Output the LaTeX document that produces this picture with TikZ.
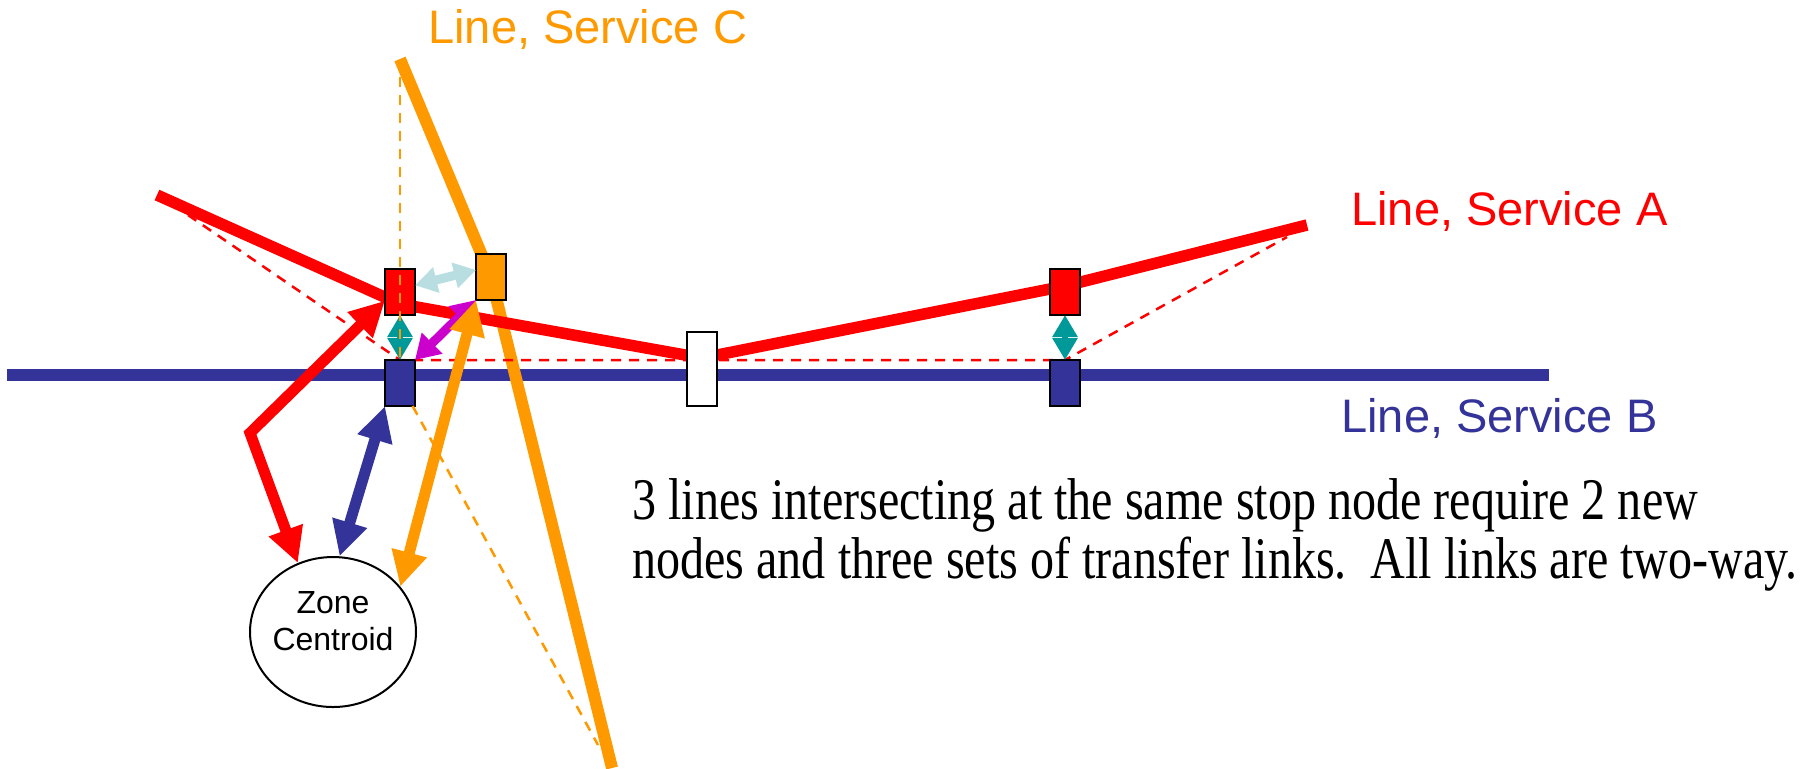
\documentclass[tikz,border=0pt]{standalone}
\usepackage{fontspec}
\setmainfont{Liberation Serif}
\newfontfamily\arialf{Liberation Sans}
\newfontfamily\bodyf[FakeStretch=0.815]{Liberation Serif}
\usetikzlibrary{arrows.meta,shapes.geometric}
\definecolor{lineRed}{RGB}{255,0,0}
\definecolor{lineBlue}{RGB}{51,51,153}
\definecolor{lineOrange}{RGB}{255,153,0}
\definecolor{tealc}{RGB}{0,153,153}
\definecolor{lightc}{RGB}{185,222,225}
\definecolor{magc}{RGB}{204,0,204}
\pgfdeclarelayer{bg}
\pgfdeclarelayer{mid}
\pgfsetlayers{bg,mid,main}
\begin{document}
\begin{tikzpicture}[x=0.5pt,y=-0.5pt,
  route/.style={line width=6pt},
  stopbox/.style={draw=black, line width=1pt, minimum width=15pt, minimum height=23pt, inner sep=0pt, outer sep=0pt},
  dashlink/.style={line width=1.25pt, dash pattern=on 5pt off 4pt},
  bigarrow/.style={line width=5.5pt, {Triangle[length=17.5pt,width=17pt]}-{Triangle[length=17.5pt,width=17pt]}},
  magarrow/.style={line width=4.5pt, magc, {Triangle[length=12pt,width=14pt]}-{Triangle[length=12pt,width=14pt]}},
  lbarrow/.style={line width=4.5pt, lightc, {Triangle[length=11pt,width=12.5pt]}-{Triangle[length=11pt,width=12.5pt]}},
  tealarrow/.style={line width=3pt, tealc, {Triangle[length=11pt,width=12pt]}-{Triangle[length=11pt,width=12pt]}},
  lab/.style={font=\arialf\fontsize{23.5}{28}\selectfont, inner sep=0pt, anchor=base west},
]
\useasboundingbox (0,0) rectangle (1818,768);

% stop nodes
\node[stopbox, fill=lineRed] (rA) at (400,292) {};
\node[stopbox, fill=lineRed] (rB) at (1065,292) {};
\node[stopbox, fill=lineBlue] (bA) at (400,383) {};
\node[stopbox, fill=lineBlue] (bB) at (1065,383) {};
\node[stopbox, fill=lineOrange] (oA) at (491,277) {};
\node[stopbox, fill=white, minimum height=37pt] (wS) at (702,368.5) {};

% zone centroid
\node[ellipse, draw=black, line width=1pt, minimum width=83pt, minimum height=75pt, inner sep=0pt] (zc) at (333,632) {};
\node[font=\arialf\fontsize{16}{18.5}\selectfont, align=center, inner sep=0pt] (zct) at (333,621) {Zone\\Centroid};

% route coordinates
\coordinate (aW) at (157,195);
\coordinate (aK1) at (400,304);
\coordinate (aK2) at (702,358);
\coordinate (aK3) at (1065,286);
\coordinate (aE) at (1307,225);
\coordinate (bW) at (7,375);
\coordinate (bE) at (1549,375);
\coordinate (cN) at (400,59);
\coordinate (cS) at (612,768);
\coordinate (dA1) at (188,215);
\coordinate (dA2) at (1287,237);
\coordinate (dC1) at (400,77);
\coordinate (dC2) at (598,745);
\coordinate (rbend) at (250,433);

\begin{pgfonlayer}{bg}
\draw[route, lineBlue] (bW) -- (bE);
\draw[route, lineOrange] (cN) -- (oA.center) -- (cS);
\draw[route, lineRed, line width=5.75pt] (aW) -- (aK1) -- (aK2) -- (aK3) -- (aE);
\end{pgfonlayer}

\begin{pgfonlayer}{mid}
\draw[dashlink, lineRed] (dA1) -- (bA.north) -- (bB.north) -- (dA2);
\end{pgfonlayer}

% transfer links
\draw[tealarrow] (rA.south) -- (bA.north);
\draw[tealarrow] (rB.south) -- (bB.north);
\draw[lbarrow] (rA.24) -- (oA.155);
\draw[magarrow] (oA.south west) -- (bA.north east);
\draw[bigarrow, lineRed] (rA.210) -- (rbend) -- (zc.117);
\draw[bigarrow, lineBlue] (bA.south west) -- (zc.85);
\draw[bigarrow, lineOrange] (oA.south west) -- (zc.34);

% rerouted line C
\draw[dashlink, lineOrange] (dC1) -- (bA);
\draw[dashlink, lineOrange] (bA) -- (dC2);

% labels
\node[lab, text=lineOrange] (labC) at (428,43) {Line, Service C};
\node[lab, text=lineRed] (labA) at (1351,225) {Line, Service A};
\node[lab, text=lineBlue] (labB) at (1341,432) {Line, Service B};

\node[anchor=north west, inner sep=0pt, align=left, font=\bodyf\fontsize{29.5}{29.5}\selectfont] (note) at (632,478) {3 lines intersecting at the same stop node require 2 new\\nodes and three sets of transfer links.\ \ All links are two-way.};
\end{tikzpicture}
\end{document}
